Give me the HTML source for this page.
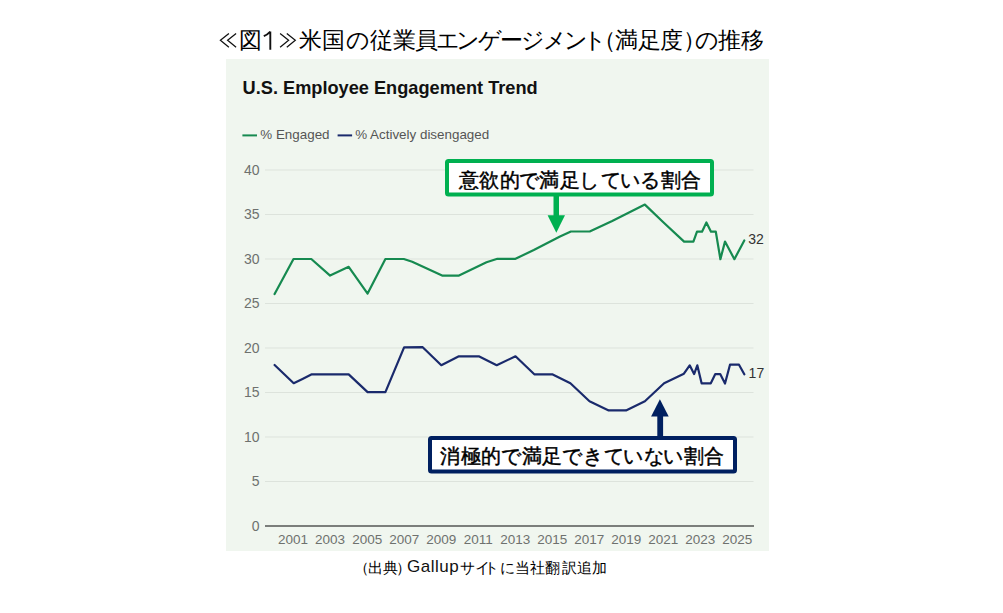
<!DOCTYPE html>
<html><head><meta charset="utf-8">
<style>
html,body{margin:0;padding:0;background:#fff;width:1003px;height:613px;overflow:hidden;}
body{position:relative;font-family:"Liberation Sans",sans-serif;}
svg{position:absolute;left:0;top:0;}
.cj span{position:absolute;width:40px;text-align:center;line-height:1;white-space:nowrap;color:#000;}
.cj span.lat{width:auto;text-align:left;font-size:15px;letter-spacing:1.4px;color:#111;}
</style></head>
<body>
<div class="cj">
<span style="left:230.10px;top:28.6px;font-size:23px;font-weight:normal;">図</span>
<span style="left:290.40px;top:28.6px;font-size:23px;font-weight:normal;">米</span>
<span style="left:313.10px;top:28.6px;font-size:23px;font-weight:normal;">国</span>
<span style="left:337.70px;top:28.6px;font-size:23px;font-weight:normal;">の</span>
<span style="left:361.70px;top:28.6px;font-size:23px;font-weight:normal;">従</span>
<span style="left:384.00px;top:28.6px;font-size:23px;font-weight:normal;">業</span>
<span style="left:406.00px;top:28.6px;font-size:23px;font-weight:normal;">員</span>
<span style="left:428.10px;top:28.6px;font-size:23px;font-weight:normal;">エ</span>
<span style="left:447.80px;top:28.6px;font-size:23px;font-weight:normal;">ン</span>
<span style="left:469.70px;top:28.6px;font-size:23px;font-weight:normal;">ゲ</span>
<span style="left:491.10px;top:28.6px;font-size:23px;font-weight:normal;">ー</span>
<span style="left:513.20px;top:28.6px;font-size:23px;font-weight:normal;">ジ</span>
<span style="left:535.10px;top:28.6px;font-size:23px;font-weight:normal;">メ</span>
<span style="left:556.10px;top:28.6px;font-size:23px;font-weight:normal;">ン</span>
<span style="left:574.90px;top:28.6px;font-size:23px;font-weight:normal;">ト</span>
<span style="left:584.00px;top:28.6px;font-size:23px;font-weight:normal;">（</span>
<span style="left:606.00px;top:28.6px;font-size:23px;font-weight:normal;">満</span>
<span style="left:629.50px;top:28.6px;font-size:23px;font-weight:normal;">足</span>
<span style="left:651.50px;top:28.6px;font-size:23px;font-weight:normal;">度</span>
<span style="left:674.00px;top:28.6px;font-size:23px;font-weight:normal;">）</span>
<span style="left:687.00px;top:28.6px;font-size:23px;font-weight:normal;">の</span>
<span style="left:709.30px;top:28.6px;font-size:23px;font-weight:normal;">推</span>
<span style="left:732.90px;top:28.6px;font-size:23px;font-weight:normal;">移</span>
</div>
<svg width="1003" height="613" viewBox="0 0 1003 613">
<rect x="226" y="59" width="543" height="492" fill="#f0f6ef"/>
<g fill="none" stroke="#111" stroke-width="1.25" stroke-linejoin="miter">
<polyline points="228.9,33.4 220.4,40.3 228.9,47.2"/><polyline points="236.1,33.4 227.6,40.3 236.1,47.2"/>
<polyline points="280.1,33.4 288.6,40.3 280.1,47.2"/><polyline points="286.8,33.4 295.3,40.3 286.8,47.2"/>
</g>
<path d="M270.3,31.6 L270.3,49.7 M263.8,36.2 Q267.5,34.6 270.3,31.6" fill="none" stroke="#111" stroke-width="1.9"/>
<text x="242.6" y="94.3" font-family="Liberation Sans" font-weight="bold" font-size="18.2" fill="#111">U.S. Employee Engagement Trend</text>
<line x1="242.4" y1="135.4" x2="257" y2="135.4" stroke="#168a50" stroke-width="2"/>
<text x="260.3" y="138.5" font-family="Liberation Sans" font-size="13.4" fill="#555">% Engaged</text>
<line x1="337.6" y1="135.4" x2="352.1" y2="135.4" stroke="#1a2a6c" stroke-width="2"/>
<text x="355.2" y="138.5" font-family="Liberation Sans" font-size="13.4" fill="#555">% Actively disengaged</text>
<g stroke="#dde3dc" stroke-width="1">
<line x1="265" y1="170" x2="753.5" y2="170"/>
<line x1="265" y1="214.5" x2="753.5" y2="214.5"/>
<line x1="265" y1="259" x2="753.5" y2="259"/>
<line x1="265" y1="303.5" x2="753.5" y2="303.5"/>
<line x1="265" y1="348" x2="753.5" y2="348"/>
<line x1="265" y1="392.5" x2="753.5" y2="392.5"/>
<line x1="265" y1="437" x2="753.5" y2="437"/>
<line x1="265" y1="481.5" x2="753.5" y2="481.5"/>
</g>
<line x1="265" y1="526" x2="754" y2="526" stroke="#7b7e7b" stroke-width="2"/>
<g font-family="Liberation Sans" font-size="14" fill="#6e716e" text-anchor="end">
<text x="259.5" y="174.6">40</text>
<text x="259.5" y="219.1">35</text>
<text x="259.5" y="263.6">30</text>
<text x="259.5" y="308.1">25</text>
<text x="259.5" y="352.6">20</text>
<text x="259.5" y="397.1">15</text>
<text x="259.5" y="441.6">10</text>
<text x="259.5" y="486.1">5</text>
<text x="259.5" y="530.6">0</text>
</g>
<g font-family="Liberation Sans" font-size="13.5" fill="#6e716e" text-anchor="middle">
<text x="293.1" y="544">2001</text>
<text x="330.1" y="544">2003</text>
<text x="367.2" y="544">2005</text>
<text x="404.2" y="544">2007</text>
<text x="441.2" y="544">2009</text>
<text x="478.2" y="544">2011</text>
<text x="515.2" y="544">2013</text>
<text x="552.2" y="544">2015</text>
<text x="589.3" y="544">2017</text>
<text x="626.3" y="544">2019</text>
<text x="663.3" y="544">2021</text>
<text x="700.3" y="544">2023</text>
<text x="737.3" y="544">2025</text>
</g>
<polyline fill="none" stroke="#168a50" stroke-width="2.2" stroke-linejoin="round" stroke-linecap="round"
 points="274.6,294.1 293.5,259 311.3,259 330.1,275.6 348.7,266.8 367.6,293.6 385.4,259 403.8,259 412.2,261.8 442.1,275.6 459,275.6 486.5,262.3 497.4,258.8 515.5,258.8 533.8,250 560,236.5 570.9,231.5 589.7,231.5 612.2,220.9 644.9,204.6 663.3,222.2 684.1,241.6 693.4,241.6 697,231.7 702,231.7 706.4,222.5 711,231.7 715.8,231.7 720.4,259.2 725,241.6 734.4,259.2 744.3,240.4"/>
<polyline fill="none" stroke="#1a2a6c" stroke-width="2.2" stroke-linejoin="round" stroke-linecap="round"
 points="274.6,365 293.7,383.2 302.5,378.9 311.3,374.4 348.7,374.4 367.6,392.1 385.4,392.1 404.1,347.3 422.7,347.2 441.3,365.2 458.9,356.3 478.8,356.3 496.7,365.2 515.5,356.3 534.3,374.3 552.2,374.3 570.4,383.3 589.5,401.2 608.7,410.4 626,410.4 644.9,401.2 664.1,383.3 683.9,373.7 689.7,365.3 694.1,374.1 697.3,365.3 701.6,383.3 710.8,383.3 715.3,374.1 720.2,374.1 725,383.5 730,364.7 739,364.7 744.3,374.3"/>
<text x="748.2" y="244.2" font-family="Liberation Sans" font-size="14" fill="#333">32</text>
<text x="748.6" y="377.7" font-family="Liberation Sans" font-size="14" fill="#333">17</text>
<!-- green callout -->
<rect x="447" y="161" width="265" height="33.5" rx="1.5" fill="#fff" stroke="#00b050" stroke-width="4"/>
<rect x="553.5" y="196" width="5.5" height="20" fill="#00b050"/>
<polygon points="547.6,215.2 565,215.2 556.3,232.7" fill="#00b050"/>
<!-- navy callout -->
<rect x="430" y="438" width="305" height="33.5" rx="1.5" fill="#fff" stroke="#002060" stroke-width="4"/>
<rect x="657.3" y="415" width="5.8" height="22" fill="#002060"/>
<polygon points="651.1,416.4 668.7,416.4 659.9,399.3" fill="#002060"/>
<text x="407" y="571.6" font-family="Liberation Sans" font-size="17" letter-spacing="0.5" fill="#111">Gallup</text>
</svg>
<div class="cj">
<span style="left:449.20px;top:170px;font-size:20px;font-weight:normal;-webkit-text-stroke:0.45px #000;">意</span>
<span style="left:468.88px;top:170px;font-size:20px;font-weight:normal;-webkit-text-stroke:0.45px #000;">欲</span>
<span style="left:489.56px;top:170px;font-size:20px;font-weight:normal;-webkit-text-stroke:0.45px #000;">的</span>
<span style="left:508.74px;top:170px;font-size:20px;font-weight:normal;-webkit-text-stroke:0.45px #000;">で</span>
<span style="left:529.42px;top:170px;font-size:20px;font-weight:normal;-webkit-text-stroke:0.45px #000;">満</span>
<span style="left:550.10px;top:170px;font-size:20px;font-weight:normal;-webkit-text-stroke:0.45px #000;">足</span>
<span style="left:569.28px;top:170px;font-size:20px;font-weight:normal;-webkit-text-stroke:0.45px #000;">し</span>
<span style="left:590.96px;top:170px;font-size:20px;font-weight:normal;-webkit-text-stroke:0.45px #000;">て</span>
<span style="left:609.64px;top:170px;font-size:20px;font-weight:normal;-webkit-text-stroke:0.45px #000;">い</span>
<span style="left:630.32px;top:170px;font-size:20px;font-weight:normal;-webkit-text-stroke:0.45px #000;">る</span>
<span style="left:650.50px;top:170px;font-size:20px;font-weight:normal;-webkit-text-stroke:0.45px #000;">割</span>
<span style="left:670.68px;top:170px;font-size:20px;font-weight:normal;-webkit-text-stroke:0.45px #000;">合</span>
<span style="left:430.30px;top:446px;font-size:20px;font-weight:normal;-webkit-text-stroke:0.45px #000;">消</span>
<span style="left:451.10px;top:446px;font-size:20px;font-weight:normal;-webkit-text-stroke:0.45px #000;">極</span>
<span style="left:471.40px;top:446px;font-size:20px;font-weight:normal;-webkit-text-stroke:0.45px #000;">的</span>
<span style="left:490.70px;top:446px;font-size:20px;font-weight:normal;-webkit-text-stroke:0.45px #000;">で</span>
<span style="left:511.50px;top:446px;font-size:20px;font-weight:normal;-webkit-text-stroke:0.45px #000;">満</span>
<span style="left:532.30px;top:446px;font-size:20px;font-weight:normal;-webkit-text-stroke:0.45px #000;">足</span>
<span style="left:551.60px;top:446px;font-size:20px;font-weight:normal;-webkit-text-stroke:0.45px #000;">で</span>
<span style="left:573.40px;top:446px;font-size:20px;font-weight:normal;-webkit-text-stroke:0.45px #000;">き</span>
<span style="left:593.70px;top:446px;font-size:20px;font-weight:normal;-webkit-text-stroke:0.45px #000;">て</span>
<span style="left:612.50px;top:446px;font-size:20px;font-weight:normal;-webkit-text-stroke:0.45px #000;">い</span>
<span style="left:633.80px;top:446px;font-size:20px;font-weight:normal;-webkit-text-stroke:0.45px #000;">な</span>
<span style="left:653.10px;top:446px;font-size:20px;font-weight:normal;-webkit-text-stroke:0.45px #000;">い</span>
<span style="left:673.90px;top:446px;font-size:20px;font-weight:normal;-webkit-text-stroke:0.45px #000;">割</span>
<span style="left:694.20px;top:446px;font-size:20px;font-weight:normal;-webkit-text-stroke:0.45px #000;">合</span>
<span style="left:341.70px;top:559.5px;font-size:15px;font-weight:normal;">（</span>
<span style="left:355.10px;top:559.5px;font-size:15px;font-weight:normal;">出</span>
<span style="left:370.30px;top:559.5px;font-size:15px;font-weight:normal;">典</span>
<span style="left:383.70px;top:559.5px;font-size:15px;font-weight:normal;">）</span>
<span style="left:447.90px;top:559.5px;font-size:15px;font-weight:normal;">サ</span>
<span style="left:462.00px;top:559.5px;font-size:15px;font-weight:normal;">イ</span>
<span style="left:471.80px;top:559.5px;font-size:15px;font-weight:normal;">ト</span>
<span style="left:487.20px;top:559.5px;font-size:15px;font-weight:normal;">に</span>
<span style="left:502.30px;top:559.5px;font-size:15px;font-weight:normal;">当</span>
<span style="left:517.70px;top:559.5px;font-size:15px;font-weight:normal;">社</span>
<span style="left:532.50px;top:559.5px;font-size:15px;font-weight:normal;">翻</span>
<span style="left:549.50px;top:559.5px;font-size:15px;font-weight:normal;">訳</span>
<span style="left:564.50px;top:559.5px;font-size:15px;font-weight:normal;">追</span>
<span style="left:579.10px;top:559.5px;font-size:15px;font-weight:normal;">加</span>

</div>
</body></html>
